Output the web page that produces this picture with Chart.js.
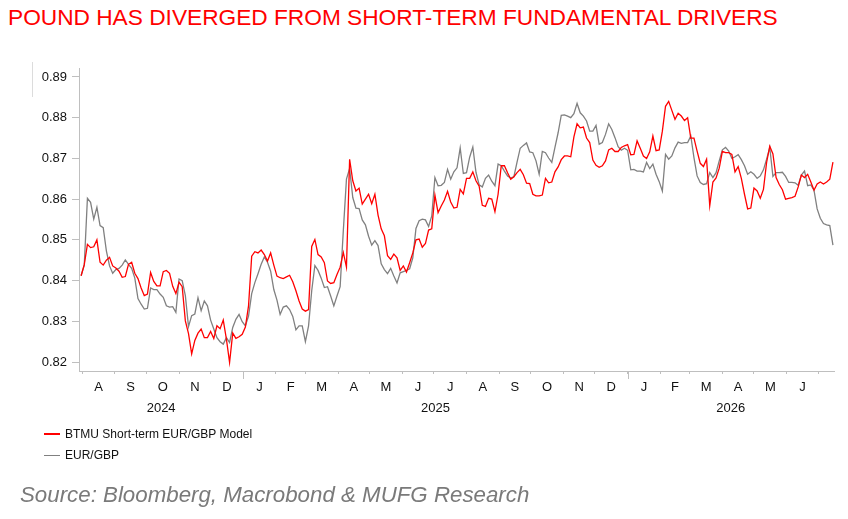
<!DOCTYPE html>
<html>
<head>
<meta charset="utf-8">
<script src="https://cdn.jsdelivr.net/npm/chart.js@4.4.1/dist/chart.umd.min.js"></script>
<style>
  html, body { margin: 0; padding: 0; background: #fff; }
  body { width: 848px; height: 519px; position: relative; overflow: hidden; font-family: "Liberation Sans", Arial, sans-serif; }
  #title { position: absolute; left: 8px; top: 4px; font-size: 22.7px; color: #f00; white-space: nowrap; }
  #chart { position: absolute; left: 0; top: 0; }
  .legend { position: absolute; left: 44px; font-size: 12px; line-height: 16px; color: #111; white-space: nowrap; }
  .legend i { display: inline-block; width: 16px; height: 0; vertical-align: middle; margin-right: 5px; margin-top: -1px; }
  #source { position: absolute; left: 20px; top: 482px; font-size: 22.3px; font-style: italic; color: #7a7a7a; white-space: nowrap; }
  #mark { position: absolute; left: 32px; top: 62px; width: 0; height: 35px; border-left: 1px solid #dcdcdc; }
</style>
</head>
<body>
<div id="title">POUND HAS DIVERGED FROM SHORT-TERM FUNDAMENTAL DRIVERS</div>
<div id="mark"></div>
<canvas id="chart" width="848" height="519"></canvas>
<div class="legend" style="top:426px"><i style="border-top:2px solid #f00"></i>BTMU Short-term EUR/GBP Model</div>
<div class="legend" style="top:447px"><i style="border-top:1.5px solid #808080"></i>EUR/GBP</div>
<div id="source">Source: Bloomberg, Macrobond &amp; MUFG Research</div>

<script>
// one reading every 3 calendar days, starting 31 Jul 2024
const startDate = '2024-07-31';
const stepDays = 3;

const model = [
  0.8412, 0.8439, 0.8489, 0.8481, 0.8483, 0.8500, 0.8445, 0.8438, 0.8450, 0.8457,
  0.8436, 0.8431, 0.8423, 0.8408, 0.8410, 0.8440, 0.8445, 0.8418, 0.8405, 0.8382,
  0.8363, 0.8367, 0.8420, 0.8398, 0.8387, 0.8387, 0.8422, 0.8425, 0.8418, 0.8386,
  0.8368, 0.8396, 0.8385, 0.8301, 0.8270, 0.8220, 0.8253, 0.8271, 0.8281, 0.8260,
  0.8260, 0.8275, 0.8258, 0.8289, 0.8282, 0.8303, 0.8256, 0.8199, 0.8271, 0.8258,
  0.8262, 0.8268, 0.8286, 0.8338, 0.8460, 0.8471, 0.8468, 0.8475, 0.8464, 0.8448,
  0.8468, 0.8438, 0.8411, 0.8407, 0.8405, 0.8409, 0.8413, 0.8397, 0.8375, 0.8350,
  0.8330, 0.8325, 0.8329, 0.8484, 0.8501, 0.8464, 0.8458, 0.8444, 0.8399, 0.8393,
  0.8395, 0.8415, 0.8433, 0.8469, 0.8433, 0.8698, 0.8645, 0.8620, 0.8627, 0.8588,
  0.8600, 0.8612, 0.8589, 0.8612, 0.8561, 0.8527, 0.8510, 0.8461, 0.8452, 0.8465,
  0.8456, 0.8425, 0.8436, 0.8421, 0.8444, 0.8468, 0.8500, 0.8502, 0.8482, 0.8491,
  0.8524, 0.8527, 0.8610, 0.8567, 0.8583, 0.8598, 0.8619, 0.8593, 0.8578, 0.8580,
  0.8624, 0.8613, 0.8651, 0.8651, 0.8667, 0.8645, 0.8632, 0.8585, 0.8582, 0.8602,
  0.8600, 0.8569, 0.8612, 0.8682, 0.8682, 0.8665, 0.8649, 0.8655, 0.8665, 0.8673,
  0.8660, 0.8639, 0.8638, 0.8612, 0.8608, 0.8608, 0.8610, 0.8651, 0.8640, 0.8642,
  0.8667, 0.8679, 0.8697, 0.8706, 0.8706, 0.8704, 0.8753, 0.8785, 0.8775, 0.8777,
  0.8750, 0.8739, 0.8696, 0.8683, 0.8678, 0.8682, 0.8694, 0.8721, 0.8725, 0.8717,
  0.8717, 0.8727, 0.8731, 0.8734, 0.8709, 0.8710, 0.8743, 0.8725, 0.8706, 0.8700,
  0.8716, 0.8755, 0.8719, 0.8721, 0.8767, 0.8828, 0.8840, 0.8818, 0.8796, 0.8811,
  0.8804, 0.8793, 0.8800, 0.8750, 0.8750, 0.8718, 0.8688, 0.8680, 0.8698, 0.8584,
  0.8642, 0.8652, 0.8676, 0.8717, 0.8714, 0.8714, 0.8710, 0.8667, 0.8680, 0.8651,
  0.8612, 0.8576, 0.8578, 0.8627, 0.8620, 0.8602, 0.8624, 0.8690, 0.8730, 0.8711,
  0.8653, 0.8636, 0.8623, 0.8600, 0.8602, 0.8604, 0.8607, 0.8630, 0.8659, 0.8653,
  0.8661, 0.8642, 0.8622, 0.8637, 0.8642, 0.8637, 0.8642, 0.8649, 0.8691
];

const eurgbp = [
  0.8412, 0.8438, 0.8602, 0.8592, 0.8551, 0.8580, 0.8535, 0.8530, 0.8473, 0.8436,
  0.8418, 0.8427, 0.8430, 0.8438, 0.8451, 0.8440, 0.8430, 0.8406, 0.8356, 0.8342,
  0.8330, 0.8332, 0.8382, 0.8378, 0.8378, 0.8367, 0.8359, 0.8338, 0.8335, 0.8336,
  0.8322, 0.8404, 0.8400, 0.8363, 0.8287, 0.8314, 0.8318, 0.8358, 0.8326, 0.8350,
  0.8338, 0.8303, 0.8281, 0.8260, 0.8250, 0.8244, 0.8260, 0.8248, 0.8285, 0.8305,
  0.8317, 0.8299, 0.8289, 0.8313, 0.8368, 0.8395, 0.8417, 0.8440, 0.8458, 0.8445,
  0.8423, 0.8378, 0.8352, 0.8317, 0.8335, 0.8338, 0.8329, 0.8312, 0.8279, 0.8289,
  0.8289, 0.8250, 0.8289, 0.8375, 0.8437, 0.8425, 0.8406, 0.8383, 0.8385, 0.8362,
  0.8338, 0.8362, 0.8385, 0.8522, 0.8649, 0.8675, 0.8604, 0.8578, 0.8577, 0.8549,
  0.8537, 0.8509, 0.8487, 0.8498, 0.8486, 0.8441, 0.8427, 0.8417, 0.8430, 0.8411,
  0.8394, 0.8419, 0.8422, 0.8425, 0.8429, 0.8456, 0.8528, 0.8547, 0.8551, 0.8549,
  0.8533, 0.8559, 0.8653, 0.8633, 0.8634, 0.8641, 0.8673, 0.8649, 0.8667, 0.8677,
  0.8726, 0.8663, 0.8665, 0.8703, 0.8728, 0.8666, 0.8635, 0.8630, 0.8651, 0.8659,
  0.8644, 0.8633, 0.8686, 0.8682, 0.8669, 0.8657, 0.8652, 0.8655, 0.8691, 0.8725,
  0.8732, 0.8738, 0.8716, 0.8714, 0.8694, 0.8661, 0.8717, 0.8714, 0.8701, 0.8690,
  0.8727, 0.8763, 0.8806, 0.8807, 0.8804, 0.8800, 0.8810, 0.8835, 0.8812, 0.8804,
  0.8792, 0.8767, 0.8767, 0.8781, 0.8735, 0.8739, 0.8759, 0.8785, 0.8771, 0.8751,
  0.8729, 0.8720, 0.8725, 0.8720, 0.8672, 0.8673, 0.8669, 0.8669, 0.8667, 0.8690,
  0.8675, 0.8686, 0.8661, 0.8643, 0.8620, 0.8710, 0.8698, 0.8706, 0.8726, 0.8740,
  0.8737, 0.8739, 0.8739, 0.8755, 0.8702, 0.8657, 0.8641, 0.8636, 0.8638, 0.8665,
  0.8653, 0.8665, 0.8694, 0.8721, 0.8727, 0.8718, 0.8700, 0.8704, 0.8709, 0.8697,
  0.8682, 0.8661, 0.8667, 0.8661, 0.8651, 0.8657, 0.8672, 0.8698, 0.8727, 0.8656,
  0.8665, 0.8665, 0.8666, 0.8656, 0.8641, 0.8641, 0.8640, 0.8634, 0.8659, 0.8669,
  0.8633, 0.8635, 0.8622, 0.8576, 0.8553, 0.8540, 0.8537, 0.8535, 0.8487
];

const monthStarts = [
  '2024-08-01', '2024-09-01', '2024-10-01', '2024-11-01', '2024-12-01',
  '2025-01-01', '2025-02-01', '2025-03-01', '2025-04-01', '2025-05-01', '2025-06-01',
  '2025-07-01', '2025-08-01', '2025-09-01', '2025-10-01', '2025-11-01', '2025-12-01',
  '2026-01-01', '2026-02-01', '2026-03-01', '2026-04-01', '2026-05-01', '2026-06-01',
  '2026-07-01'
];
const monthLetters = ['A', 'S', 'O', 'N', 'D', 'J', 'F', 'M', 'A', 'M', 'J',
  'J', 'A', 'S', 'O', 'N', 'D', 'J', 'F', 'M', 'A', 'M', 'J'];
const yearStarts = ['2024-01-01', '2025-01-01', '2026-01-01', '2027-01-01'];
const yearLabels = ['2024', '2025', '2026'];
const yTicks = [0.82, 0.83, 0.84, 0.85, 0.86, 0.87, 0.88, 0.89];
const axisStart = '2024-07-29';
const axisEnd = '2026-07-16';

// days counted from 1 Jan 2025
const DAY = 86400000;
const base = Date.parse('2025-01-01T00:00:00Z');
const dayNo = s => (Date.parse(s + 'T00:00:00Z') - base) / DAY;

const xMin = dayNo(axisStart);
const xMax = dayNo(axisEnd);
const first = dayNo(startDate);
const modelPts = model.map((v, i) => ({ x: first + i * stepDays, y: v }));
const eurgbpPts = eurgbp.map((v, i) => ({ x: first + i * stepDays, y: v }));

const bounds = monthStarts.map(dayNo);
const monthTicks = bounds.map(v => ({ value: v, lbl: '' }));
monthLetters.forEach((l, k) => monthTicks.push({ value: (bounds[k] + bounds[k + 1]) / 2, lbl: l }));
monthTicks.sort((a, b) => a.value - b.value);
const monthLabel = new Map(monthTicks.map(t => [t.value, t.lbl]));

const yearDays = yearStarts.map(dayNo);
const yearTicks = yearLabels.map((l, k) => ({
  value: (Math.max(xMin, yearDays[k]) + Math.min(xMax, yearDays[k + 1])) / 2, lbl: l
}));
const yearLabel = new Map(yearTicks.map(t => [t.value, t.lbl]));

const axisGrey = '#bfbfbf';
const tickFont = { family: '"Liberation Sans", Arial, sans-serif', size: 13 };

// longer tick marks at the start of each year
const yearMarks = {
  id: 'yearMarks',
  afterDraw(chart) {
    const s = chart.scales.x;
    const ctx = chart.ctx;
    ctx.save();
    ctx.strokeStyle = axisGrey;
    ctx.lineWidth = 1;
    yearDays.forEach(d => {
      if (d <= xMin || d >= xMax) return;
      const px = Math.round(s.getPixelForValue(d)) + 0.5;
      ctx.beginPath();
      ctx.moveTo(px, s.top);
      ctx.lineTo(px, s.top + 8);
      ctx.stroke();
    });
    ctx.restore();
  }
};

new Chart(document.getElementById('chart').getContext('2d'), {
  type: 'line',
  data: {
    datasets: [
      {
        label: 'BTMU Short-term EUR/GBP Model',
        data: modelPts,
        borderColor: '#ff0000',
        borderWidth: 1.3,
        pointRadius: 0,
        tension: 0
      },
      {
        label: 'EUR/GBP',
        data: eurgbpPts,
        borderColor: '#808080',
        borderWidth: 1.3,
        pointRadius: 0,
        tension: 0
      }
    ]
  },
  options: {
    responsive: false,
    animation: false,
    events: [],
    layout: { padding: { top: 68, right: 14, left: 0, bottom: 104 } },
    plugins: { legend: { display: false }, tooltip: { enabled: false } },
    scales: {
      x: {
        type: 'linear',
        position: 'bottom',
        min: xMin,
        max: xMax,
        afterBuildTicks: s => { s.ticks = monthTicks.map(t => ({ value: t.value, lbl: t.lbl })); },
        afterFit: s => { s.height = 22; },
        border: { color: axisGrey, width: 1 },
        grid: {
          drawOnChartArea: false,
          tickLength: 3,
          tickColor: c => (c.tick && c.tick.lbl) ? 'rgba(0,0,0,0)' : axisGrey
        },
        ticks: {
          autoSkip: false,
          maxRotation: 0,
          minRotation: 0,
          padding: 6,
          color: '#111',
          font: tickFont,
          callback: v => monthLabel.get(v) || ''
        }
      },
      yr: {
        type: 'linear',
        position: 'bottom',
        min: xMin,
        max: xMax,
        afterBuildTicks: s => { s.ticks = yearTicks.map(t => ({ value: t.value })); },
        afterFit: s => { s.height = 22; },
        border: { display: false },
        grid: { display: false },
        ticks: {
          autoSkip: false,
          maxRotation: 0,
          padding: 0,
          color: '#111',
          font: tickFont,
          callback: v => yearLabel.get(v) || ''
        }
      },
      y: {
        type: 'linear',
        min: 0.8178,
        max: 0.8922,
        afterBuildTicks: s => { s.ticks = yTicks.map(v => ({ value: v })); },
        afterFit: s => { s.width = 79; },
        border: { color: axisGrey, width: 1 },
        grid: { drawOnChartArea: false, tickLength: 7, tickColor: axisGrey },
        ticks: {
          padding: 5,
          color: '#111',
          font: tickFont,
          callback: v => v.toFixed(2)
        }
      }
    }
  },
  plugins: [yearMarks]
});
</script>
</body>
</html>
